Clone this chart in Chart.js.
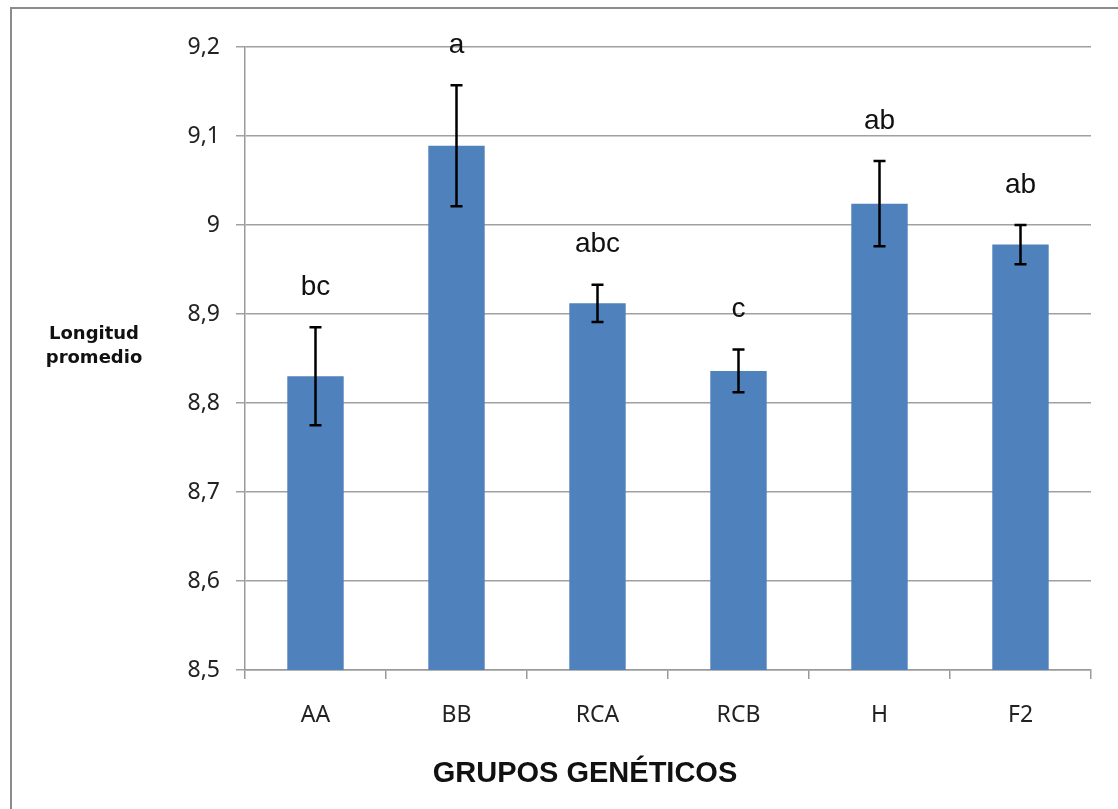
<!DOCTYPE html>
<html>
<head>
<meta charset="utf-8">
<script src="https://cdn.jsdelivr.net/npm/chart.js@4.4.1/dist/chart.umd.min.js"></script>
<style>
  html, body { margin: 0; padding: 0; background: #ffffff; }
  #wrap { width: 1118px; height: 809px; position: relative; }
</style>
</head>
<body>
<div id="wrap"><canvas id="chart" width="1118" height="809"></canvas></div>
<script>
// Genetic groups and their mean length with standard error
const grupos = ['AA', 'BB', 'RCA', 'RCB', 'H', 'F2'];
const medias = [8.830, 9.089, 8.912, 8.836, 9.024, 8.978];
const errores = [0.055, 0.068, 0.021, 0.024, 0.048, 0.022];
const letras = ['bc', 'a', 'abc', 'c', 'ab', 'ab'];
const yTicks = ['8,5', '8,6', '8,7', '8,8', '8,9', '9', '9,1', '9,2'];

const tickFont = { family: "'Noto Sans', 'Open Sans', sans-serif", size: 23 };

// Outer frame of the chart (left and top edges)
const framePlugin = {
  id: 'frame',
  beforeDraw(chart) {
    const ctx = chart.ctx;
    ctx.save();
    ctx.fillStyle = '#ffffff';
    ctx.fillRect(0, 0, chart.width, chart.height);
    ctx.strokeStyle = '#8c8c8c';
    ctx.lineWidth = 2;
    ctx.beginPath();
    ctx.moveTo(11, chart.height + 5);
    ctx.lineTo(11, 8);
    ctx.lineTo(chart.width + 5, 8);
    ctx.stroke();
    ctx.restore();
  }
};

// Error bars, significance letters and axis titles
const annotatePlugin = {
  id: 'annotate',
  afterDatasetsDraw(chart) {
    const ctx = chart.ctx;
    const y = chart.scales.y;
    const meta = chart.getDatasetMeta(0);
    ctx.save();
    ctx.strokeStyle = '#000000';
    ctx.lineWidth = 2.5;
    meta.data.forEach((bar, i) => {
      const x = bar.x;
      const top = y.getPixelForValue(medias[i] + errores[i]);
      const bot = y.getPixelForValue(medias[i] - errores[i]);
      const cap = 6;
      ctx.beginPath();
      ctx.moveTo(x, top); ctx.lineTo(x, bot);
      ctx.moveTo(x - cap, top); ctx.lineTo(x + cap, top);
      ctx.moveTo(x - cap, bot); ctx.lineTo(x + cap, bot);
      ctx.stroke();

      ctx.fillStyle = '#111111';
      ctx.font = "28px 'Liberation Sans', Arial, sans-serif";
      ctx.textAlign = 'center';
      ctx.textBaseline = 'middle';
      ctx.fillText(letras[i], x, top - 40);
    });

    // Y axis title
    ctx.fillStyle = '#111111';
    ctx.font = "bold 18px 'DejaVu Sans', Verdana, sans-serif";
    ctx.textAlign = 'center';
    ctx.textBaseline = 'middle';
    ctx.fillText('Longitud', 94, 334);
    ctx.fillText('promedio', 94, 358);

    // X axis title
    ctx.font = "bold 29px 'Liberation Sans', Arial, sans-serif";
    ctx.fillText('GRUPOS GENÉTICOS', 585, 774);
    ctx.restore();
  }
};

new Chart(document.getElementById('chart'), {
  type: 'bar',
  data: {
    labels: grupos,
    datasets: [{
      data: medias,
      backgroundColor: '#4F81BD',
      borderWidth: 0,
      categoryPercentage: 0.4,
      barPercentage: 1.0
    }]
  },
  options: {
    responsive: false,
    animation: false,
    devicePixelRatio: 1,
    layout: { padding: { top: 47, right: 27, left: 0, bottom: 0 } },
    plugins: {
      legend: { display: false },
      tooltip: { enabled: false }
    },
    scales: {
      x: {
        type: 'category',
        offset: true,
        grid: {
          offset: true,
          drawOnChartArea: false,
          drawTicks: true,
          tickLength: 9,
          color: '#9a9a9a',
          lineWidth: 1.5
        },
        border: { color: '#9a9a9a', width: 1.5 },
        ticks: { font: tickFont, color: '#222222', padding: 23, maxRotation: 0 },
        afterFit(scale) { scale.height = 139; }
      },
      y: {
        min: 8.5,
        max: 9.2,
        ticks: {
          stepSize: 0.1,
          font: tickFont,
          color: '#222222',
          padding: 16,
          callback: (v, i) => yTicks[i]
        },
        grid: {
          color: '#a0a0a0',
          lineWidth: 1.5,
          tickLength: 9,
          drawTicks: true
        },
        border: { color: '#9a9a9a', width: 1.5 },
        afterFit(scale) { scale.width = 245; }
      }
    }
  },
  plugins: [framePlugin, annotatePlugin]
});
</script>
</body>
</html>
